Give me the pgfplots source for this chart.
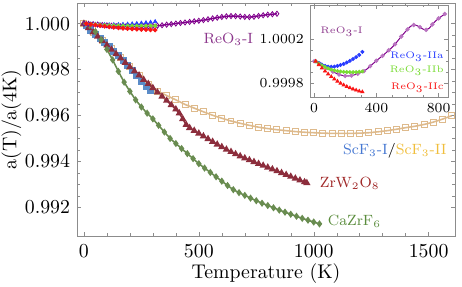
\documentclass[border=0pt]{standalone}
\usepackage{pgfplots}
\pgfplotsset{compat=1.18}
\usepackage{pgfplotstable}
\usetikzlibrary{calc}

\definecolor{reoI}{RGB}{128,0,140}
\definecolor{reoIlab}{RGB}{140,55,140}
\definecolor{reoIIa}{RGB}{40,60,255}
\definecolor{reoIIb}{RGB}{120,220,50}
\definecolor{reoIIc}{RGB}{250,20,20}
\definecolor{scfI}{RGB}{90,140,200}
\definecolor{scfIlab}{RGB}{70,120,210}
\definecolor{scfII}{RGB}{222,186,140}
\definecolor{scfIIlab}{RGB}{240,190,60}
\definecolor{zrw}{RGB}{140,45,60}
\definecolor{zrwlab}{RGB}{160,40,40}
\definecolor{cazr}{RGB}{105,140,80}
\definecolor{cazrlab}{RGB}{90,140,60}
\definecolor{frame}{RGB}{140,140,140}

\pgfplotstableread{
T a
0 1.000000
20 0.999990
40 0.999975
60 0.999958
80 0.999940
100 0.999922
120 0.999906
140 0.999892
160 0.999880
180 0.999872
200 0.999867
220 0.999866
240 0.999870
260 0.999877
280 0.999886
300 0.999897
320 0.999910
340 0.999930
360 0.999955
380 0.999980
400 1.000005
420 1.000028
440 1.000050
460 1.000075
480 1.000100
500 1.000125
520 1.000155
540 1.000190
560 1.000225
580 1.000258
600 1.000290
620 1.000318
640 1.000330
660 1.000325
680 1.000310
700 1.000292
720 1.000286
740 1.000300
760 1.000335
780 1.000365
800 1.000390
820 1.000410
840 1.000430
}\reoI

\pgfplotstableread{
T a
10 1.000000
30 0.999985
50 0.999970
70 0.999958
90 0.999951
110 0.999949
130 0.999952
150 0.999958
170 0.999966
190 0.999976
210 0.999989
230 1.000004
250 1.000020
270 1.000038
290 1.000058
310 1.000085
}\reoIIa

\pgfplotstableread{
T a
10 1.000000
30 0.999980
50 0.999962
70 0.999948
90 0.999936
110 0.999926
130 0.999918
150 0.999912
170 0.999907
190 0.999904
210 0.999902
230 0.999901
250 0.999901
270 0.999902
290 0.999904
310 0.999908
}\reoIIb

\pgfplotstableread{
T a
10 1.000000
30 0.999968
50 0.999938
70 0.999910
90 0.999884
110 0.999860
130 0.999838
150 0.999818
170 0.999800
190 0.999784
210 0.999770
230 0.999758
250 0.999747
270 0.999737
290 0.999728
310 0.999722
}\reoIIc

\pgfplotstableread{
T a
0 1.00000
40 0.99962
80 0.99926
120 0.99890
160 0.99853
200 0.99814
240 0.99775
280 0.99735
320 0.99706
360 0.99687
400 0.99668
440 0.99648
480 0.99632
520 0.99616
560 0.99601
600 0.99588
640 0.99576
680 0.99566
720 0.99557
760 0.99549
800 0.99543
840 0.99538
880 0.99534
920 0.99530
960 0.99527
1000 0.99525
1040 0.99523
1080 0.99522
1120 0.99522
1160 0.99522
1200 0.99523
1240 0.99525
1280 0.99529
1320 0.99534
1360 0.99540
1400 0.99547
1440 0.99553
1480 0.99561
1520 0.99571
1560 0.99584
1600 0.99599
}\scfII

\pgfplotstableread{
T a
10 0.99991
30 0.99972
50 0.99952
70 0.99935
90 0.99917
110 0.99899
130 0.99880
150 0.99861
170 0.99841
190 0.99820
210 0.99798
230 0.99774
250 0.99750
270 0.99728
290 0.99707
}\scfI

\pgfplotstableread{
T a
0 1.00000
20 0.99981
40 0.99962
60 0.99944
80 0.99925
100 0.99906
120 0.99887
140 0.99868
160 0.99849
180 0.99830
200 0.99811
220 0.99793
240 0.99775
260 0.99756
280 0.99738
300 0.99720
320 0.99701
340 0.99683
360 0.99665
380 0.99646
400 0.99627
415 0.99610
430 0.99585
445 0.99560
460 0.99546
480 0.99534
500 0.99522
520 0.99510
540 0.99498
560 0.99486
580 0.99474
600 0.99463
620 0.99452
640 0.99442
660 0.99432
680 0.99423
700 0.99414
720 0.99406
740 0.99398
760 0.99390
780 0.99382
800 0.99374
820 0.99366
840 0.99358
860 0.99350
880 0.99342
900 0.99334
920 0.99326
940 0.99318
960 0.99310
970 0.99306
}\zrw

\pgfplotstableread{
T a
0 1.00000
25 0.99992
50 0.99965
75 0.99930
100 0.99888
125 0.99842
150 0.99792
175 0.99745
200 0.99705
225 0.99668
250 0.99637
275 0.99610
300 0.99585
325 0.99557
350 0.99528
375 0.99500
400 0.99478
425 0.99456
450 0.99434
475 0.99412
500 0.99390
525 0.99371
550 0.99352
575 0.99333
600 0.99314
625 0.99295
650 0.99277
675 0.99264
700 0.99252
725 0.99240
750 0.99229
775 0.99218
800 0.99208
825 0.99198
850 0.99188
875 0.99179
900 0.99170
925 0.99161
950 0.99152
975 0.99144
1000 0.99136
1025 0.99128
}\cazr

\begin{document}
\begin{tikzpicture}
\begin{axis}[name=main, at={(0,0)}, anchor=south west,
  scale only axis, width=190.9pt, height=117.7pt,
  xmin=-30, xmax=1615, ymin=0.99075, ymax=1.0009,
  xtick={0,500,1000,1500}, minor x tick num=4,
  ytick={0.992,0.994,0.996,0.998,1.000}, minor y tick num=3,
  scaled y ticks=false, scaled x ticks=false,
  yticklabel style={/pgf/number format/.cd, fixed, fixed zerofill, precision=3},
  xticklabel style={/pgf/number format/1000 sep={}, anchor=base, yshift=-11pt},
  tick align=inside, major tick length=2.2pt, minor tick length=1.3pt,
  axis line style={frame}, tick style={frame},
  xlabel={Temperature (K)}, ylabel={a(T)/a(4K)},
  xlabel style={at={(axis description cs:0.5,0)}, anchor=base, yshift=-21.5pt},
  ylabel shift=-5pt,
]
\addplot[scfII, line width=0.8pt, mark=square, mark size=1.5pt, mark options={solid, line width=0.5pt}] table[x=T,y=a] {\scfII};
\addplot[only marks, scfI, mark=square*, mark size=1.5pt] table[x=T,y=a] {\scfI};
\addplot[zrw, line width=0.8pt, mark=triangle*, mark size=1.35pt] table[x=T,y=a] {\zrw};
\addplot[cazr, line width=0.8pt, mark=diamond*, mark size=1.2pt] table[x=T,y=a] {\cazr};
\addplot[reoI, line width=0.7pt, mark=diamond, mark size=1.3pt, mark options={line width=0.4pt}] table[x=T,y=a] {\reoI};
\addplot[only marks, reoIIa, mark=triangle*, mark size=1pt] table[x=T,y=a] {\reoIIa};
\addplot[only marks, reoIIb, mark=*, mark size=0.9pt] table[x=T,y=a] {\reoIIb};
\addplot[only marks, reoIIc, mark=*, mark size=1pt] table[x=T,y=a] {\reoIIc};
\node[text=reoIlab, font=\fontsize{7.5}{9}\selectfont, anchor=west] at (axis cs:490,0.99930) {ReO$_3$-I};
\node[font=\fontsize{7.5}{9}\selectfont, anchor=east, inner sep=0pt] at (axis cs:1580,0.99445) {\textcolor{scfIlab}{ScF$_3$-I}/\textcolor{scfIIlab}{ScF$_3$-II}};
\node[text=zrwlab, font=\fontsize{7.5}{9}\selectfont, anchor=west, inner sep=0pt] at (axis cs:1025,0.99303) {ZrW$_2$O$_8$};
\node[text=cazrlab, font=\fontsize{7.5}{9}\selectfont, anchor=west, inner sep=0pt] at (axis cs:1060,0.99140) {CaZrF$_6$};
\end{axis}
\begin{axis}[name=inset, at={(118pt,70.2pt)}, anchor=south west,
  scale only axis, width=69.3pt, height=46.5pt,
  xmin=-22, xmax=860, ymin=0.999675, ymax=1.000512,
  axis background/.style={fill=white},
  xtick={0,400,800}, minor x tick num=3,
  ytick={0.9998,1.0002}, minor y tick num=3,
  scaled y ticks=false, scaled x ticks=false,
  yticklabel style={/pgf/number format/.cd, fixed, fixed zerofill, precision=4},
  ticklabel style={font=\scriptsize},
  tick align=inside, major tick length=1.8pt, minor tick length=1pt,
  axis line style={frame}, tick style={frame},
]
\addplot[reoI!55, only marks, mark=*, mark size=0.9pt, mark repeat=2] table[x=T,y=a] {\reoI};
\addplot[reoI, line width=0.5pt] table[x=T,y=a] {\reoI};
\addplot[only marks, reoIIa, mark=*, mark size=0.8pt] table[x=T,y=a] {\reoIIa};
\addplot[only marks, reoIIb, mark=*, mark size=0.8pt] table[x=T,y=a] {\reoIIb};
\addplot[only marks, reoIIc, mark=triangle*, mark size=0.9pt] table[x=T,y=a] {\reoIIc};
\node[text=reoIlab, font=\fontsize{4.8}{5.5}\selectfont, anchor=west, inner sep=0pt] at (axis cs:40,1.000266) {ReO$_3$-I};
\node[text=reoIIa, font=\fontsize{4.8}{5.5}\selectfont, anchor=east, inner sep=0pt] at (axis cs:835,1.000040) {ReO$_3$-IIa};
\node[text=reoIIb, font=\fontsize{4.8}{5.5}\selectfont, anchor=east, inner sep=0pt] at (axis cs:835,0.999912) {ReO$_3$-IIb};
\node[text=reoIIc, font=\fontsize{4.8}{5.5}\selectfont, anchor=east, inner sep=0pt] at (axis cs:835,0.999757) {ReO$_3$-IIc};
\end{axis}
\pgfresetboundingbox
\path ($(main.south west)+(-38.9pt,-25.25pt)$) rectangle ($(main.north east)+(3.5pt,1.5pt)$);
\end{tikzpicture}
\end{document}
